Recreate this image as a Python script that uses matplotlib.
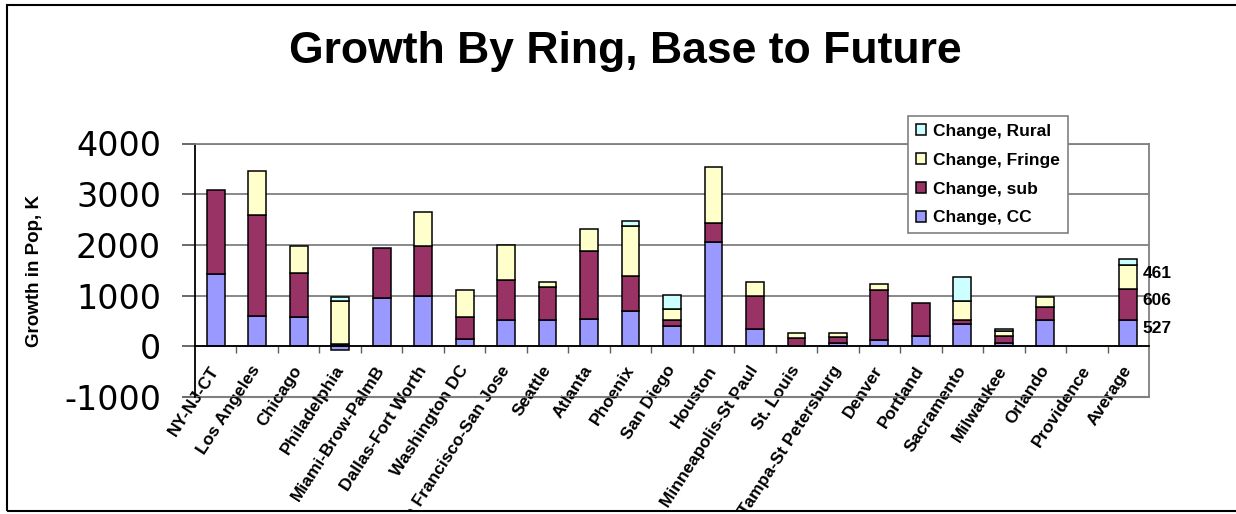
import matplotlib
matplotlib.use('Agg')
import matplotlib.pyplot as plt
from matplotlib.patches import Rectangle, Patch
import numpy as np

# Growth in population (thousands) by ring, base year to future year
REGIONS = ['NY-NJ-CT', 'Los Angeles', 'Chicago', 'Philadelphia', 'Miami-Brow-PalmB',
           'Dallas-Fort Worth', 'Washington DC', 'San Francisco-San Jose', 'Seattle',
           'Atlanta', 'Phoenix', 'San Diego', 'Houston', 'Minneapolis-St Paul',
           'St. Louis', 'Tampa-St Petersburg', 'Denver', 'Portland', 'Sacramento',
           'Milwaukee', 'Orlando', 'Providence', 'Average']
CHANGE_CC     = [1420, 600, 570, -65, 945, 1000, 140, 520, 520,
                 545, 695, 400, 2055, 335, 0, 70, 130, 200, 430, 70, 510, 0, 527]
CHANGE_SUB    = [1670, 1980, 870, 45, 990, 970, 430, 780, 655,
                 1330, 695, 110, 375, 650, 165, 120, 985, 650, 85, 125, 270, 0, 606]
CHANGE_FRINGE = [0, 870, 530, 850, 0, 670, 550, 690, 100,
                 445, 980, 235, 1100, 290, 100, 80, 105, 0, 380, 110, 200, 0, 461]
CHANGE_RURAL  = [0, 0, 0, 87, 0, 0, 0, 0, 0,
                 0, 105, 270, 0, 0, 0, 0, 0, 0, 480, 40, 0, 0, 120]

COLORS = {'CC': '#9999FF', 'sub': '#993366', 'Fringe': '#FFFFCC', 'Rural': '#CCFFFF'}
FONT = 'Liberation Sans'
plt.rcParams['axes.unicode_minus'] = False

W, H = 1236, 514
fig = plt.figure(figsize=(W / 100, H / 100), dpi=100)
ax = fig.add_axes([195 / W, 1 - 397 / H, (1149 - 195) / W, (397 - 143.5) / H])

x = np.arange(len(REGIONS))
cc = np.array(CHANGE_CC, dtype=float)
sub = np.array(CHANGE_SUB, dtype=float)
fringe = np.array(CHANGE_FRINGE, dtype=float)
rural = np.array(CHANGE_RURAL, dtype=float)

bw = 0.43
kw = dict(width=bw, edgecolor='black', linewidth=1.1, zorder=2)
b_cc = ax.bar(x, cc, color=COLORS['CC'], **kw)
# stacking base: negative CC values hang below zero, rest starts at zero
base = np.clip(cc, 0, None)
b_sub = ax.bar(x, sub, bottom=base, color=COLORS['sub'], **kw)
base = base + sub
b_fr = ax.bar(x, fringe, bottom=base, color=COLORS['Fringe'], **kw)
base = base + fringe
b_ru = ax.bar(x, rural, bottom=base, color=COLORS['Rural'], **kw)

# hide zero-height segments so they don't leave stray edges
for bars, vals in [(b_cc, cc), (b_sub, sub), (b_fr, fringe), (b_ru, rural)]:
    for r, v in zip(bars, vals):
        if v == 0:
            r.set_visible(False)

# value labels next to the Average bar
i = len(REGIONS) - 1
lo = max(cc[i], 0)
for v, bottom in [(cc[i], 0), (sub[i], lo), (fringe[i], lo + sub[i])]:
    ax.annotate(f'{int(v)}', xy=(x[i] + bw / 2, bottom + v / 2),
                xytext=(4, 3), textcoords='offset points',
                ha='left', va='center', fontsize=12.5, fontweight='bold',
                family=FONT, annotation_clip=False)

ax.set_xlim(-0.5, len(REGIONS) - 0.5)
ax.set_ylim(-1000, 4000)
ax.set_yticks([-1000, 0, 1000, 2000, 3000, 4000])
ax.yaxis.grid(True, color='#808080', linewidth=1.3)
ax.set_axisbelow(True)
ax.axhline(-1000, color='#808080', linewidth=1.5, clip_on=False, zorder=0.5)

ax.spines['bottom'].set_position(('data', 0))
ax.spines['bottom'].set_color('black')
ax.spines['bottom'].set_linewidth(1.3)
ax.spines['left'].set_linewidth(1.3)
for s in ['top', 'right']:
    ax.spines[s].set_color('#808080')
    ax.spines[s].set_linewidth(1.3)

ax.set_xticks(x)
ax.set_xticklabels(REGIONS, rotation=57, ha='right', va='center',
                   rotation_mode='anchor', fontsize=12.5, fontweight='bold', family=FONT)
ax.tick_params(axis='x', which='major', length=0, pad=15)
ax.set_xticks(np.arange(-0.5, len(REGIONS), 1.0)[1:-1], minor=True)
ax.tick_params(axis='x', which='minor', length=5, width=1, color='#606060', direction='out')

ax.tick_params(axis='y', length=9.5, width=1.1, color='#404040', labelsize=24, pad=15)
for t in ax.get_yticklabels():
    t.set_family('DejaVu Sans')

fig.text(34.5 / W, 1 - 271 / H, 'Growth in Pop, K', rotation=90, ha='center', va='center',
         fontsize=13.5, fontweight='bold', family=FONT)
fig.text(625 / W, 1 - 52 / H, 'Growth By Ring, Base to Future', ha='center', va='center',
         fontsize=32, fontweight='bold', family=FONT)

handles = [Patch(facecolor=COLORS[k], edgecolor='black', linewidth=1.1, label=f'Change, {k}')
           for k in ['Rural', 'Fringe', 'sub', 'CC']]
leg = ax.legend(handles=handles, loc='upper left',
                bbox_to_anchor=(908 / W, 1 - 116 / H), bbox_transform=fig.transFigure,
                borderaxespad=0, fancybox=False, framealpha=1, edgecolor='#808080',
                handlelength=0.6, handleheight=0.6, handletextpad=0.4, labelspacing=0.8,
                borderpad=0.45, prop={'family': FONT, 'weight': 'bold', 'size': 12.5})
leg.get_frame().set_linewidth(1.2)
leg.set_zorder(5)

# outer chart border
fig.add_artist(Rectangle((7 / W, 3 / H), 1.1, 1 - 8 / H, transform=fig.transFigure,
                         fill=False, edgecolor='black', linewidth=1.5, zorder=10))
fig.add_artist(Rectangle((0, 0), 1, 3 / H, transform=fig.transFigure,
                         facecolor='white', edgecolor='none', zorder=9))

fig.savefig('out.png', dpi=100)
